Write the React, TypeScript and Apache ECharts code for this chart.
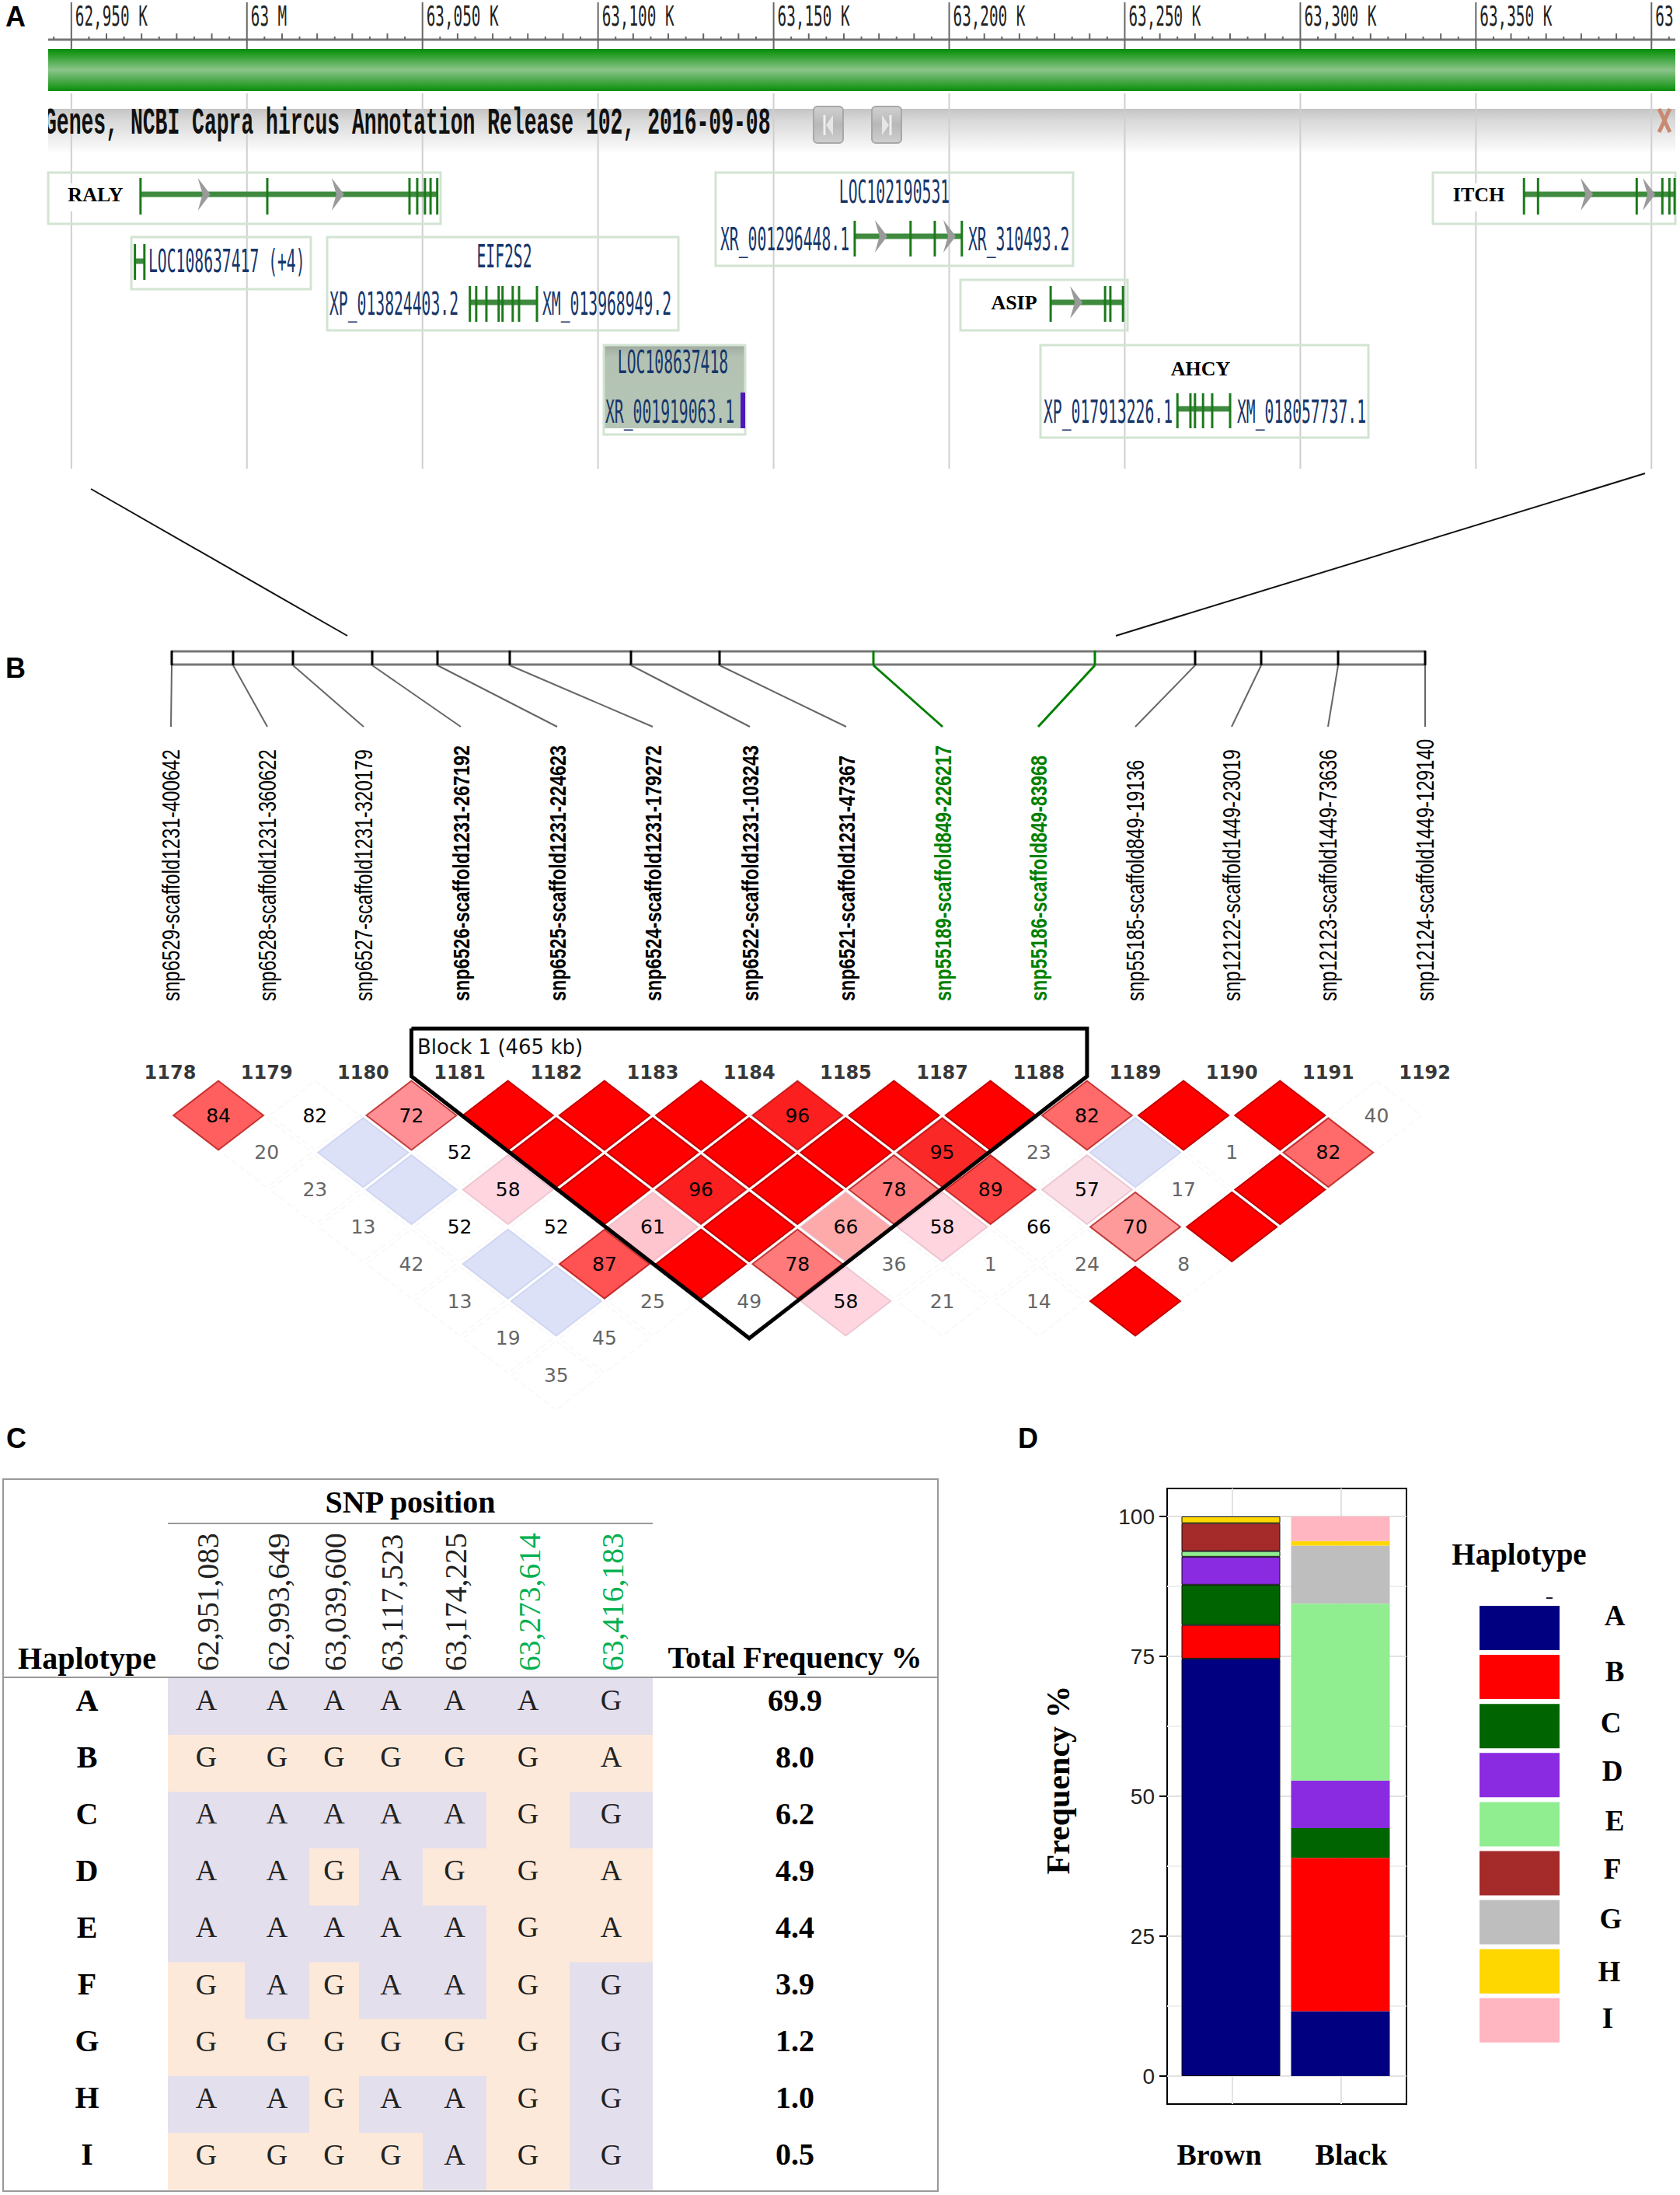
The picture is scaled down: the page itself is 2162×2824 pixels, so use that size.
import React, { useEffect, useRef } from "react";
import * as echarts from "echarts";

// Panel A: genome ruler and gene models, in kb on the chromosome
const rulerLabels: [number, string][] = [
  [62950, "62,950 K"], [63000, "63 M"], [63050, "63,050 K"], [63100, "63,100 K"], [63150, "63,150 K"],
  [63200, "63,200 K"], [63250, "63,250 K"], [63300, "63,300 K"], [63350, "63,350 K"], [63400, "63"],
];
const ralyExons = [62969.7, 63005.8, 63046.3, 63048.5, 63050.7, 63052.3, 63054.2];
const ralyArrows = [62987.8, 63025.9];
const loc417Exons = [62968.1, 62970.8];
const eif2s2Exons = [63063.5, 63065.3, 63068.2, 63071.7, 63072.8, 63075.7, 63077.5, 63082.6];
const loc531Exons = [63173.1, 63189, 63195.9, 63203.6];
const loc531Arrows = [63180.6, 63200.1];
const asipExons = [63228.9, 63244.4, 63245.9, 63249.5];
const asipArrows = [63236.2];
const ahcyExons = [63265, 63268.7, 63270, 63272.3, 63274.9, 63280];
const itchExons = [63363.7, 63367.7, 63395.8, 63403.1, 63405.1, 63406.6];
const itchArrows = [63381.6, 63399.3];
const annotationTitle = "Genes, NCBI Capra hircus Annotation Release 102, 2016-09-08";

// Panel B
const snpNames = [
  "snp6529-scaffold1231-400642", "snp6528-scaffold1231-360622", "snp6527-scaffold1231-320179",
  "snp6526-scaffold1231-267192", "snp6525-scaffold1231-224623", "snp6524-scaffold1231-179272",
  "snp6522-scaffold1231-103243", "snp6521-scaffold1231-47367", "snp55189-scaffold849-226217",
  "snp55186-scaffold849-83968", "snp55185-scaffold849-19136", "snp12122-scaffold1449-23019",
  "snp12123-scaffold1449-73636", "snp12124-scaffold1449-129140",
];
const markerIds = ["1178", "1179", "1180", "1181", "1182", "1183", "1184", "1185", "1187", "1188", "1189", "1190", "1191", "1192"];
// R = full red, B = pale blue, plain number = shaded red, k = black on white, g = grey on white
const ldRow0 = ["84", "82k", "72", "R", "R", "R", "96", "R", "R", "82", "R", "R", "40g"];
const ldRow1 = ["20g", "B", "52k", "R", "R", "R", "R", "95", "23g", "B", "1g", "82"];
const ldRow2 = ["23g", "B", "58", "R", "96", "R", "78", "89", "57", "17g", "R"];
const ldRow3 = ["13g", "52k", "52k", "61", "R", "66", "58", "66k", "70", "R"];
const ldRow4 = ["42g", "B", "87", "R", "78", "36g", "1g", "24g", "8g"];
const ldRow5 = ["13g", "B", "25g", "49g", "58", "21g", "14g", "R"];
const ldRow6 = ["19g", "45g"];
const ldRow7 = ["35g"];
const ldRows = [ldRow0, ldRow1, ldRow2, ldRow3, ldRow4, ldRow5, ldRow6, ldRow7];

// Panel C
const snpPositions = ["62,951,083", "62,993,649", "63,039,600", "63,117,523", "63,174,225", "63,273,614", "63,416,183"];
const haplotypes = ["A", "B", "C", "D", "E", "F", "G", "H", "I"];
const haplotypeAlleles = ["AAAAAAG", "GGGGGGA", "AAAAAGG", "AAGAGGA", "AAAAAGA", "GAGAAGG", "GGGGGGG", "AAGAAGG", "GGGGAGG"];
const totalFrequency = ["69.9", "8.0", "6.2", "4.9", "4.4", "3.9", "1.2", "1.0", "0.5"];

// Panel D
const coatColours = ["Brown", "Black"];
const brownFrequency = [74.6, 6.0, 7.2, 5.0, 1.0, 5.0, 0, 1.2, 0];
const blackFrequency = [11.6, 27.4, 5.3, 8.5, 31.6, 0, 10.4, 0.8, 4.4];
const frequencyTicks = [0, 25, 50, 75, 100];
const frequencyMinorTicks = [12.5, 37.5, 62.5, 87.5];

const SERIF = "Liberation Serif";
const SANS = "Liberation Sans";
const MONO = "DejaVu Sans Mono";
const DEJAVU = "DejaVu Sans";

const hapColors = ["#000080", "#ff0000", "#006400", "#8a2be2", "#90ee90", "#a52a2a", "#bebebe", "#ffd700", "#ffb6c1"];
const ldShades: Record<string, string> = {
  "96": "#fb1f1f", "95": "#fb2828", "89": "#ff4646", "87": "#ff5252", "84": "#ff5f5f", "82": "#ff6a6a",
  "78": "#ff7a7a", "72": "#ff9095", "70": "#ff9a9a", "66": "#ffaaaa", "61": "#ffc5ce", "58": "#ffd6e0", "57": "#fbdde6",
};

const T = (text: string, x: number, y: number, o: any = {}) => ({
  type: "text", x, y, scaleX: o.sx ?? 1, scaleY: o.sy ?? 1, rotation: o.rot ?? 0,
  style: {
    text, fill: o.fill ?? "#000", fontFamily: o.font ?? SERIF, fontSize: o.size ?? 20, fontWeight: o.weight ?? "normal",
    textAlign: o.align ?? "center", textVerticalAlign: "middle",
  },
});
const L = (x1: number, y1: number, x2: number, y2: number, stroke: string, lineWidth: number) => ({
  type: "line", shape: { x1, y1, x2, y2 }, style: { stroke, lineWidth },
});
const R = (x: number, y: number, width: number, height: number, fill: any, stroke?: string, lineWidth = 1, r = 0) => ({
  type: "rect", shape: { x, y, width, height, r }, style: { fill, stroke: stroke ?? "none", lineWidth },
});
const grad = (stops: [number, string][]) => ({
  type: "linear", x: 0, y: 0, x2: 0, y2: 1, colorStops: stops.map(([offset, color]) => ({ offset, color })),
});

function renderGenome(_p: any, api: any) {
  const X = (kb: number) => api.coord([kb, 0])[0];
  const c: any[] = [];
  const left = 62, right = 2156;
  c.push(R(left, 140, right - left, 58, grad([[0, "#c4c4c4"], [0.25, "#d8d8d8"], [1, "#ffffff"]])));
  c.push(R(left, 63, right - left, 54, grad([[0, "#0a8a0a"], [0.07, "#169616"], [0.5, "#8ac48a"], [0.92, "#1f981f"], [1, "#0a8a0a"]])));

  // Ruler
  c.push(L(left, 51, right, 51, "#777", 3));
  for (let k = 62945; k <= 63405; k += 5) {
    if (k % 50 === 0) continue;
    c.push(L(X(k), k % 10 === 0 ? 43 : 47, X(k), 51, "#666", 2));
  }
  rulerLabels.forEach(([kb, label]) => {
    c.push(L(X(kb), 3, X(kb), 63, "#666", 2));
    c.push(L(X(kb), 120, X(kb), 603, "#cfcfcf", 2));
    c.push(T(label, X(kb) + 5, 21, { font: MONO, size: 19.3, sy: 1.8, fill: "#222", align: "left" }));
  });

  // Annotation title
  c.push(T(annotationTitle, 57, 159, { font: "Liberation Mono", weight: "bold", size: 26.4, sy: 1.85, fill: "#111", align: "left" }));
  c.push(R(36, 130, 26, 50, "#fff"));
  [1047, 1122].forEach((x, i) => {
    c.push(R(x, 137, 38, 47, grad([[0, "#d0d0d0"], [0.5, "#b8b8b8"], [1, "#cfcfcf"]]), "#a8a8a8", 2, 5));
    c.push(L(x + (i ? 24 : 14), 148, x + (i ? 24 : 14), 174, "#eee", 3));
    c.push({ type: "polygon", shape: { points: i ? [[x + 13, 148], [x + 22, 161], [x + 13, 174]] : [[x + 25, 148], [x + 16, 161], [x + 25, 174]] }, style: { fill: "#e6e6e6" } });
  });
  c.push(L(2135, 140, 2149, 170, "#c88a70", 5));
  c.push(L(2149, 140, 2135, 170, "#c88a70", 5));

  // Gene boxes
  const box = (x1: number, y1: number, x2: number, y2: number) => R(x1, y1, x2 - x1, y2 - y1, "none", "#d2e4d2", 3);
  c.push(R(777, 444, 182, 107, grad([[0, "#a0aaa0"], [0.15, "#b3c2b3"], [1, "#b6c6b6"]])));
  c.push(box(62, 222, 567, 288), box(169, 305, 400, 372), box(421, 305, 873, 425), box(777, 444, 959, 559));
  c.push(box(921, 222, 1381, 342), box(1236, 360, 1451, 425), box(1339, 444, 1761, 563), box(1844, 222, 2156, 288));
  c.push(R(66, 236, 106, 36, "#fff"), R(1848, 236, 106, 36, "#fff"), R(1240, 366, 105, 46, "#fff"));

  // Gene models
  const gene = (exons: number[], arrows: number[], y: number, top: number, bottom: number) => {
    c.push(R(X(exons[0]), y - 3.5, X(exons[exons.length - 1]) - X(exons[0]), 7, "#3f8a3f"));
    exons.forEach((e) => c.push(L(X(e), top, X(e), bottom, "#1b7a1b", 3)));
    arrows.forEach((a) => {
      const x = X(a);
      c.push({ type: "polygon", shape: { points: [[x - 8, y - 21], [x + 8, y], [x - 8, y + 21], [x - 2, y]] }, style: { fill: "#9a9a9a" } });
    });
  };
  gene(ralyExons, ralyArrows, 250, 229, 276);
  gene(loc417Exons, [], 336, 314, 360);
  gene(eif2s2Exons, [], 389, 368, 414);
  gene(loc531Exons, loc531Arrows, 304, 284, 330);
  gene(asipExons, asipArrows, 389, 368, 414);
  gene(ahcyExons, [], 526, 506, 551);
  gene(itchExons, itchArrows, 250, 229, 276);
  c.push(R(953, 505, 6, 46, "#4b19b8"));

  // Gene labels
  const navy = "#16366b";
  const tag = (s: string, x: number, y: number, align = "center") => c.push(T(s, x, y, { font: MONO, size: 19.7, sy: 2.05, fill: navy, align }));
  tag("LOC108637417 (+4)", 191, 336, "left");
  tag("EIF2S2", 649, 330);
  tag("XP_013824403.2", 424, 391, "left");
  tag("XM_013968949.2", 698, 391, "left");
  tag("LOC108637418", 866, 466);
  tag("XR_001919063.1", 779, 530, "left");
  tag("LOC102190531", 1151, 247);
  tag("XR_001296448.1", 927, 308, "left");
  tag("XR_310493.2", 1246, 308, "left");
  tag("XP_017913226.1", 1343, 530, "left");
  tag("XM_018057737.1", 1592, 530, "left");
  [["RALY", 123, 250], ["ASIP", 1305, 389], ["AHCY", 1545, 474], ["ITCH", 1903, 250]].forEach(([s, x, y]: any) =>
    c.push(T(s, x, y, { size: 26, weight: "bold" })));
  return { type: "group", children: c };
}

function ldCells() {
  const cells: any[] = [];
  ldRows.forEach((row, k) =>
    row.forEach((code, i) => {
      const x = i + (k + 1) / 2;
      const kind = code.slice(-1);
      let color = "#fff", border = "#f9f9f9", text = "", labelColor = "#000", borderType = "dashed";
      if (code === "R") { color = "#ff0000"; border = "#c40000"; borderType = "solid"; }
      else if (code === "B") { color = "#dce1f8"; border = "#d0d6f2"; borderType = "solid"; }
      else if (kind === "k") { text = code.slice(0, -1); }
      else if (kind === "g") { text = code.slice(0, -1); labelColor = "#666"; }
      else {
        text = code; color = ldShades[code]; borderType = "solid";
        border = Number(code) >= 70 ? "rgba(170,0,0,0.7)" : "rgba(225,175,190,0.6)";
      }
      cells.push({
        value: [x, k], name: text,
        itemStyle: { color, opacity: 1, borderColor: border, borderWidth: 2, borderType },
        label: { show: text !== "", color: labelColor, formatter: text },
      });
    }),
  );
  return cells;
}

const colEdges = [216, 315, 398, 462, 544, 626, 733, 840];

function renderTableCell(_p: any, api: any) {
  const c = api.value(0), r = api.value(1);
  const allele = haplotypeAlleles[r][c];
  const lastCol = c === snpPositions.length - 1;
  const purple = lastCol ? allele === "G" : allele === "A";
  const [x1, y1] = api.coord([colEdges[c], r]);
  const [x2, y2] = api.coord([colEdges[c + 1], r + 1]);
  return {
    type: "group",
    children: [
      R(x1, y1, x2 - x1, y2 - y1 + 0.5, purple ? "#e4dfec" : "#fde9d9"),
      T(allele, (x1 + x2) / 2, y1 + 28, { size: 38, fill: "#222" }),
    ],
  };
}

function renderTableRow(_p: any, api: any) {
  const r = api.value(0);
  const y = api.coord([0, r])[1] + 28;
  return {
    type: "group",
    children: [
      T(haplotypes[r], api.coord([112, r])[0], y, { size: 40, weight: "bold" }),
      T(totalFrequency[r], api.coord([1023, r])[0], y, { size: 40, weight: "bold" }),
    ],
  };
}

function buildOption() {
  const g: any[] = [];
  const panel = (s: string, x: number, y: number) =>
    g.push({ type: "text", x, y, style: { text: s, fontFamily: SANS, fontWeight: "bold", fontSize: 36, fill: "#000", textAlign: "center", textVerticalAlign: "middle" } });
  panel("A", 20, 21); panel("B", 20, 859); panel("C", 21, 1850); panel("D", 1323, 1850);

  const gl = (x1: number, y1: number, x2: number, y2: number, stroke: string, lineWidth: number) =>
    g.push({ type: "line", shape: { x1, y1, x2, y2 }, style: { stroke, lineWidth } });
  gl(117, 629, 447, 818, "#111", 2);
  gl(2117, 609, 1436, 818, "#111", 2);

  // Panel B rail
  const railX = [221, 300, 377, 479, 563, 656, 812, 926, 1124, 1409, 1538, 1623, 1722, 1834];
  const labelX = [220, 344, 468, 593, 717, 840, 965, 1089, 1213, 1336, 1461, 1585, 1709, 1834];
  gl(221, 838, 1834, 838, "#777", 3);
  gl(221, 855, 1834, 855, "#777", 3);
  snpNames.forEach((name, i) => {
    const green = i === 8 || i === 9;
    const bold = (i >= 3 && i <= 7) || green;
    const col = green ? "#008000" : "#000";
    gl(railX[i], 837, railX[i], 856, col, 3);
    gl(railX[i], 856, labelX[i], 935, green ? "#008000" : "#666", green ? 3 : 2);
    g.push({
      type: "text", x: labelX[i], y: 1288, rotation: Math.PI / 2, scaleY: 1.3,
      style: { text: name, fontFamily: SANS, fontWeight: bold ? "bold" : "normal", fontSize: bold ? 23.4 : 24, fill: col, textAlign: "left", textVerticalAlign: "middle" },
    });
  });
  g.push({ type: "text", x: 537, y: 1347, style: { text: "Block 1 (465 kb)", fontFamily: DEJAVU, fontSize: 26, fill: "#111", textAlign: "left", textVerticalAlign: "middle" } });

  // Panel C frame and headers
  g.push({ type: "rect", shape: { x: 4, y: 1903, width: 1203, height: 916 }, style: { fill: "none", stroke: "#999", lineWidth: 2 } });
  gl(216, 1960, 840, 1960, "#999", 2);
  gl(4, 2158, 1207, 2158, "#999", 2);
  const head = (s: string, x: number, y: number, size: number) =>
    g.push({ type: "text", x, y, style: { text: s, fontFamily: SERIF, fontWeight: "bold", fontSize: size, fill: "#000", textAlign: "center", textVerticalAlign: "middle" } });
  head("SNP position", 528, 1932, 40);
  head("Haplotype", 112, 2133, 40);
  head("Total Frequency %", 1023, 2133, 39.8);
  snpPositions.forEach((s, i) => {
    g.push({
      type: "text", x: (colEdges[i] + colEdges[i + 1]) / 2 + 2, y: 2150, rotation: Math.PI / 2,
      style: { text: s, fontFamily: SERIF, fontSize: 39.5, fill: i >= 5 ? "#00b050" : "#222", textAlign: "left", textVerticalAlign: "middle" },
    });
  });

  // Panel D legend title and key letters
  head("Haplotype", 1955, 1999, 39);
  const keyLetterX = [2078, 2078, 2073, 2075, 2078, 2075, 2073, 2071, 2069];
  const keyLetterY = [2078, 2150, 2216, 2278, 2342, 2404, 2468, 2536, 2596];
  haplotypes.forEach((h, i) => head(h, keyLetterX[i], keyLetterY[i], 37));
  g.push({ type: "rect", shape: { x: 1990, y: 2055, width: 8, height: 2 }, style: { fill: "#223" } });

  const hidden = { show: false };
  return {
    animation: false,
    backgroundColor: "#fff",
    grid: [
      { left: 62, width: 2094, top: 0, height: 2824 },
      { left: 94.8, width: 1863, top: 1291.6, height: 525.8 },
      { left: 4, width: 1203, top: 2159, height: 658 },
      { left: 1502, width: 308, top: 1915, height: 792, show: true, borderColor: "#000", borderWidth: 2, backgroundColor: "transparent" },
      { left: 1513.5, width: 282, top: 1915, height: 792 },
    ],
    xAxis: [
      { gridIndex: 0, type: "value", min: 62943.4, max: 63406.8, ...hidden },
      { gridIndex: 1, type: "value", min: -1, max: 14, ...hidden },
      { gridIndex: 2, type: "value", min: 4, max: 1207, ...hidden },
      {
        gridIndex: 3, type: "value", min: 0.4, max: 2.6,
        axisLine: { show: false }, axisLabel: { show: false },
        axisTick: { show: false, customValues: [1, 2] },
        splitLine: { show: true, lineStyle: { color: "#e2e2e2", width: 2 } },
      },
      {
        gridIndex: 4, type: "category", data: coatColours, position: "bottom",
        axisLine: { show: false },
        axisTick: { alignWithLabel: true, length: 10, lineStyle: { color: "#000", width: 2 } },
        splitLine: { show: false },
        axisLabel: {
          margin: 46,
          formatter: (v: string) => (v === "Brown" ? `{a|${v}}` : `{b|${v}}`),
          rich: {
            a: { fontFamily: SERIF, fontWeight: "bold", fontSize: 38, color: "#000", padding: [0, 30, 0, 0] },
            b: { fontFamily: SERIF, fontWeight: "bold", fontSize: 38, color: "#000", padding: [0, 0, 0, 28] },
          },
        },
      },
    ],
    yAxis: [
      { gridIndex: 0, type: "value", min: 0, max: 2824, inverse: true, ...hidden },
      { gridIndex: 1, type: "value", min: -3, max: 8, inverse: true, ...hidden },
      { gridIndex: 2, type: "value", min: 0, max: 9, inverse: true, ...hidden },
      {
        gridIndex: 3, type: "value", min: -5, max: 105,
        name: "Frequency %", nameLocation: "middle", nameRotate: 90, nameGap: 119,
        nameTextStyle: { fontFamily: SERIF, fontWeight: "bold", fontSize: 42, color: "#000", padding: [0, 0, 0, 42] },
        axisLine: { show: false },
        axisTick: { show: true, length: 10, customValues: frequencyTicks, lineStyle: { color: "#000", width: 2 } },
        axisLabel: { customValues: frequencyTicks, margin: 16, fontFamily: SANS, fontSize: 28, color: "#222" },
        splitLine: { show: true, lineStyle: { color: "#e2e2e2", width: 2 } },
      },
      {
        gridIndex: 3, type: "value", min: -5, max: 105, position: "left",
        axisLine: { show: false }, axisLabel: { show: false },
        axisTick: { show: false, customValues: frequencyMinorTicks },
        splitLine: { show: true, lineStyle: { color: "#efefef", width: 2 } },
      },
      { gridIndex: 4, type: "value", min: -5, max: 105, ...hidden },
    ],
    legend: {
      data: haplotypes, orient: "vertical", left: 1904, top: 2066, padding: 0,
      itemWidth: 103, itemHeight: 57, itemGap: 6.1, icon: "rect", selectedMode: false,
      itemStyle: { borderWidth: 0 }, formatter: () => "",
    },
    graphic: { elements: g },
    series: [
      {
        type: "custom", name: "genome", xAxisIndex: 0, yAxisIndex: 0, coordinateSystem: "cartesian2d",
        silent: true, renderItem: renderGenome, data: [[62950, 0]], z: 1,
      },
      {
        type: "scatter", name: "LD", xAxisIndex: 1, yAxisIndex: 1, symbol: "diamond", symbolSize: [116, 89], silent: true,
        clip: false, data: ldCells(),
        label: { show: true, position: "inside", fontFamily: DEJAVU, fontSize: 25 },
      },
      {
        type: "scatter", name: "markers", xAxisIndex: 1, yAxisIndex: 1, symbolSize: 1, silent: true,
        itemStyle: { color: "transparent" },
        data: markerIds.map((id, i) => ({ value: [i, -1.15], name: id })),
        label: { show: true, position: "inside", formatter: "{b}", fontFamily: DEJAVU, fontWeight: "bold", fontSize: 24, color: "#000" },
      },
      {
        type: "line", name: "Block 1", xAxisIndex: 1, yAxisIndex: 1, symbol: "none", silent: true, z: 5,
        lineStyle: { color: "#000", width: 5, join: "miter" },
        data: [[2.5, -2.34], [2.5, -1.05], [6, 6], [9.5, -1.05], [9.5, -2.34], [2.5, -2.34]],
      },
      {
        type: "custom", name: "alleles", xAxisIndex: 2, yAxisIndex: 2, silent: true, renderItem: renderTableCell,
        data: haplotypeAlleles.flatMap((_s, r) => snpPositions.map((_p, c) => [c, r])),
      },
      {
        type: "custom", name: "rows", xAxisIndex: 2, yAxisIndex: 2, silent: true, renderItem: renderTableRow,
        encode: { x: 1, y: 0 }, data: haplotypes.map((_h, r) => [r, r]),
      },
      ...haplotypes.map((h, i) => ({
        type: "bar", name: h, xAxisIndex: 4, yAxisIndex: 5, stack: "frequency", barWidth: 127, silent: true,
        itemStyle: { color: hapColors[i] },
        data: [
          brownFrequency[i] === 0 ? "-" : { value: brownFrequency[i], itemStyle: { borderColor: "#111", borderWidth: 1 } },
          blackFrequency[i] === 0 ? "-" : blackFrequency[i],
        ],
      })),
    ],
  };
}

export default function App() {
  const ref = useRef<HTMLDivElement>(null);
  useEffect(() => {
    document.body.style.margin = "0";
    const chart = echarts.init(ref.current!, undefined, { renderer: "svg" });
    chart.setOption(buildOption() as any);
    return () => chart.dispose();
  }, []);
  return <div ref={ref} style={{ width: 2162, height: 2824 }} />;
}
